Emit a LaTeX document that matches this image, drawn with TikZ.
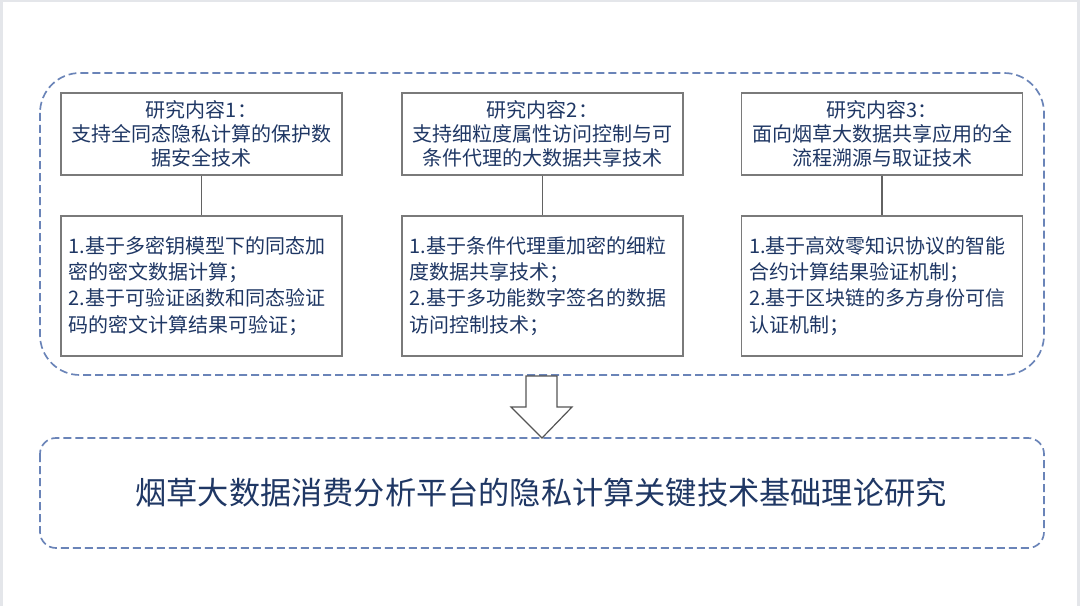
\documentclass[tikz,border=0pt]{standalone}
\usepackage{fontspec}
\setmainfont{Noto Sans CJK SC}
\definecolor{navy}{HTML}{1F3764}
\definecolor{dashblue}{HTML}{6A84B8}
\definecolor{boxgray}{HTML}{7A7A7A}
\definecolor{edgegray}{HTML}{E4E6EA}
\begin{document}
\begin{tikzpicture}[x=0.75pt,y=-0.75pt,
  dashframe/.style={draw=dashblue,line width=1.25pt,dash pattern=on 6pt off 3pt},
  headbox/.style={draw=boxgray,line width=0.9pt,minimum width=281*0.75pt,minimum height=82*0.75pt,
     inner sep=0pt,align=center,text=navy,font=\fontsize{15pt}{18pt}\selectfont},
  bodybox/.style={draw=boxgray,line width=0.9pt,minimum width=281*0.75pt,minimum height=140*0.75pt,
     inner sep=0pt,text=navy,font=\fontsize{15pt}{19.6pt}\selectfont},
  bodytext/.style={align=left,text width=266*0.75pt,inner sep=0pt,text=navy,font=\fontsize{15pt}{19.6pt}\selectfont},
  link/.style={draw=boxgray!80!black,line width=0.8pt}]
\fill[white] (0,0) rectangle (1080,606);
\useasboundingbox (0,0) rectangle (1080,606);
% page edges
\fill[edgegray] (0,0) rectangle (1080,2.5);
\fill[edgegray] (0,0) rectangle (3,606);
\fill[edgegray] (1077,0) rectangle (1080,606);
% frames
\draw[dashframe,rounded corners=30pt] (40,73) rectangle (1044,375);
\draw[dashframe,rounded corners=12pt] (40,438) rectangle (1044,548);
% header boxes
\node[headbox] (h1) at (201.5,134) {研究内容1：\\支持全同态隐私计算的保护数\\据安全技术};
\node[headbox] (h2) at (542.5,134) {研究内容2：\\支持细粒度属性访问控制与可\\条件代理的大数据共享技术};
\node[headbox] (h3) at (882,134) {研究内容3：\\面向烟草大数据共享应用的全\\流程溯源与取证技术};
% body boxes
\node[bodybox] (b1) at (201.5,286) {};
\node[bodybox] (b2) at (542.5,286) {};
\node[bodybox] (b3) at (882,286) {};
\node[bodytext] (t1) at (b1.center) {1.基于多密钥模型下的同态加\\密的密文数据计算；\\2.基于可验证函数和同态验证\\码的密文计算结果可验证；};
\node[bodytext] (t2) at (b2.center) {1.基于条件代理重加密的细粒\\度数据共享技术；\\2.基于多功能数字签名的数据\\访问控制技术；};
\node[bodytext] (t3) at (b3.center) {1.基于高效零知识协议的智能\\合约计算结果验证机制；\\2.基于区块链的多方身份可信\\认证机制；};
% connectors
\draw[link] (h1.south) -- (b1.north);
\draw[link] (h2.south) -- (b2.north);
\draw[link] (h3.south) -- (b3.north);
% big arrow
\draw[draw=boxgray!70!black,line width=0.9pt,fill=white]
  (526,376) -- (557,376) -- (557,407) -- (572,407) -- (542,438) -- (511,407) -- (526,407) -- cycle;
% bottom title
\node[text=navy,font=\fontsize{23.4pt}{28pt}\selectfont] (title) at (541,493) {烟草大数据消费分析平台的隐私计算关键技术基础理论研究};
\end{tikzpicture}
\end{document}
